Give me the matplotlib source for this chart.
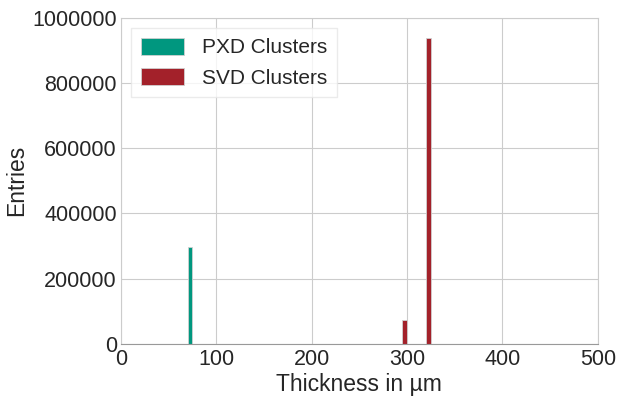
import numpy as np
import matplotlib
matplotlib.use('Agg')
import matplotlib.pyplot as plt
import seaborn as sns

# histogram bins (left edges, width 5 um) and entries
bin_width = 5
pxd_bins = [70]
pxd_counts = [297000]
svd_bins = [295, 320]
svd_counts = [74000, 938000]

sns.set_style('whitegrid')
plt.rcParams['font.family'] = ['Liberation Sans', 'DejaVu Sans']

fig = plt.figure(figsize=(6.17, 3.97), dpi=100)
ax = fig.add_axes([0.196, 0.134, 0.773, 0.821])

ax.bar(pxd_bins, pxd_counts, width=bin_width, align='edge', color='#00977f',
       edgecolor='#d0d0d0', linewidth=0.6, label='PXD Clusters')
ax.bar(svd_bins, svd_counts, width=bin_width, align='edge', color='#a3212a',
       edgecolor='#d0d0d0', linewidth=0.6, label='SVD Clusters')

ax.set_xlim(0, 500)
ax.set_ylim(0, 1000000)
ax.set_xticks([0, 100, 200, 300, 400, 500])
ax.set_yticks([0, 200000, 400000, 600000, 800000, 1000000])
ax.ticklabel_format(style='plain', useOffset=False)
ax.tick_params(labelsize=15.5, colors='#262626', length=0, pad=4)
ax.tick_params(axis='y', pad=3)
ax.set_xlabel('Thickness in µm', fontsize=16.5, color='#262626', labelpad=2)
ax.set_ylabel('Entries', fontsize=16.5, color='#262626', labelpad=3)
for s in ax.spines.values():
    s.set_color('#cccccc')
ax.spines['bottom'].set_color('#999999')

leg = ax.legend(loc='upper left', fontsize=15, frameon=True, fancybox=False,
                handlelength=2.1, handleheight=0.9, borderpad=0.45,
                handletextpad=0.85)
leg.get_frame().set_edgecolor('#e6e6e6')
leg.get_frame().set_facecolor('white')

fig.savefig('out.png', dpi=100)
